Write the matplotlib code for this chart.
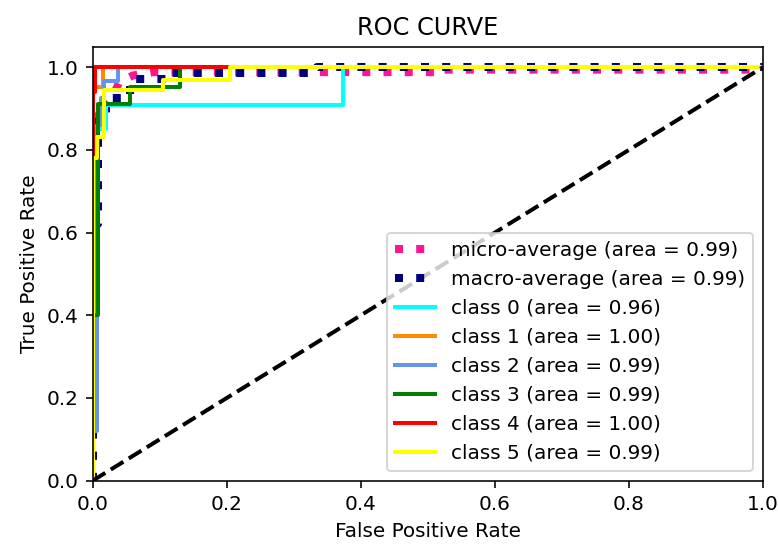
import matplotlib
matplotlib.use("Agg")
import matplotlib.pyplot as plt

# Data
micro_fpr = [0.0, 0.0, 0.02, 0.03, 0.04, 0.06, 0.09, 0.51, 0.51, 1.0, 1.0]
micro_tpr = [0.0, 0.9, 0.91, 0.93, 0.965, 0.98, 0.988, 0.988, 0.994, 0.994, 1.0]

macro_fpr = [0.0, 0.0, 0.008, 0.008, 0.02, 0.02, 0.056, 0.056, 0.115, 0.115, 0.335, 0.335, 1.0]
macro_tpr = [0.0, 0.62, 0.62, 0.87, 0.87, 0.925, 0.925, 0.972, 0.972, 0.987, 0.987, 1.0, 1.0]

class_fpr = [
    [0.0, 0.0, 0.005, 0.005, 0.02, 0.02, 0.374, 0.374, 1.0],
    [0.0, 0.0, 0.016, 0.016, 1.0],
    [0.0, 0.0, 0.006, 0.006, 0.012, 0.012, 0.017, 0.017, 0.037, 0.037, 1.0],
    [0.0, 0.0, 0.008, 0.008, 0.056, 0.056, 0.13, 0.13, 1.0],
    [0.0, 0.0, 0.004, 0.004, 1.0],
    [0.0, 0.0, 0.007, 0.007, 0.017, 0.017, 0.105, 0.105, 0.205, 0.205, 1.0],
]
class_tpr = [
    [0.0, 0.73, 0.73, 0.85, 0.85, 0.909, 0.909, 1.0, 1.0],
    [0.0, 0.953, 0.953, 1.0, 1.0],
    [0.0, 0.12, 0.12, 0.86, 0.86, 0.925, 0.925, 0.967, 0.967, 1.0, 1.0],
    [0.0, 0.4, 0.4, 0.912, 0.912, 0.952, 0.952, 1.0, 1.0],
    [0.0, 0.94, 0.94, 1.0, 1.0],
    [0.0, 0.78, 0.78, 0.83, 0.83, 0.944, 0.944, 0.968, 0.968, 1.0, 1.0],
]
class_auc = ["0.96", "1.00", "0.99", "0.99", "1.00", "0.99"]
micro_auc = "0.99"
macro_auc = "0.99"
colors = ["aqua", "darkorange", "cornflowerblue", "green", "red", "yellow"]

DPI = 144
fig = plt.figure(figsize=(779 / DPI, 544 / DPI), dpi=DPI)
ax = fig.add_axes([0.119, 0.1164, 0.9795 - 0.119, 0.9145 - 0.1164])

ax.plot(micro_fpr, micro_tpr, label=f"micro-average (area = {micro_auc})",
        color="deeppink", linestyle=":", linewidth=4)
ax.plot(macro_fpr, macro_tpr, label=f"macro-average (area = {macro_auc})",
        color="navy", linestyle=":", linewidth=4)
for i, (f, t, c) in enumerate(zip(class_fpr, class_tpr, colors)):
    ax.plot(f, t, color=c, lw=2, label=f"class {i} (area = {class_auc[i]})")

ax.plot([0, 1], [0, 1], "k--", lw=2)
ax.set_xlim(0.0, 1.0)
ax.set_ylim(0.0, 1.05)
ax.set_xlabel("False Positive Rate")
ax.set_ylabel("True Positive Rate")
ax.set_title("ROC CURVE")
ax.legend(loc="lower right")

fig.savefig("out.png", dpi=DPI)
